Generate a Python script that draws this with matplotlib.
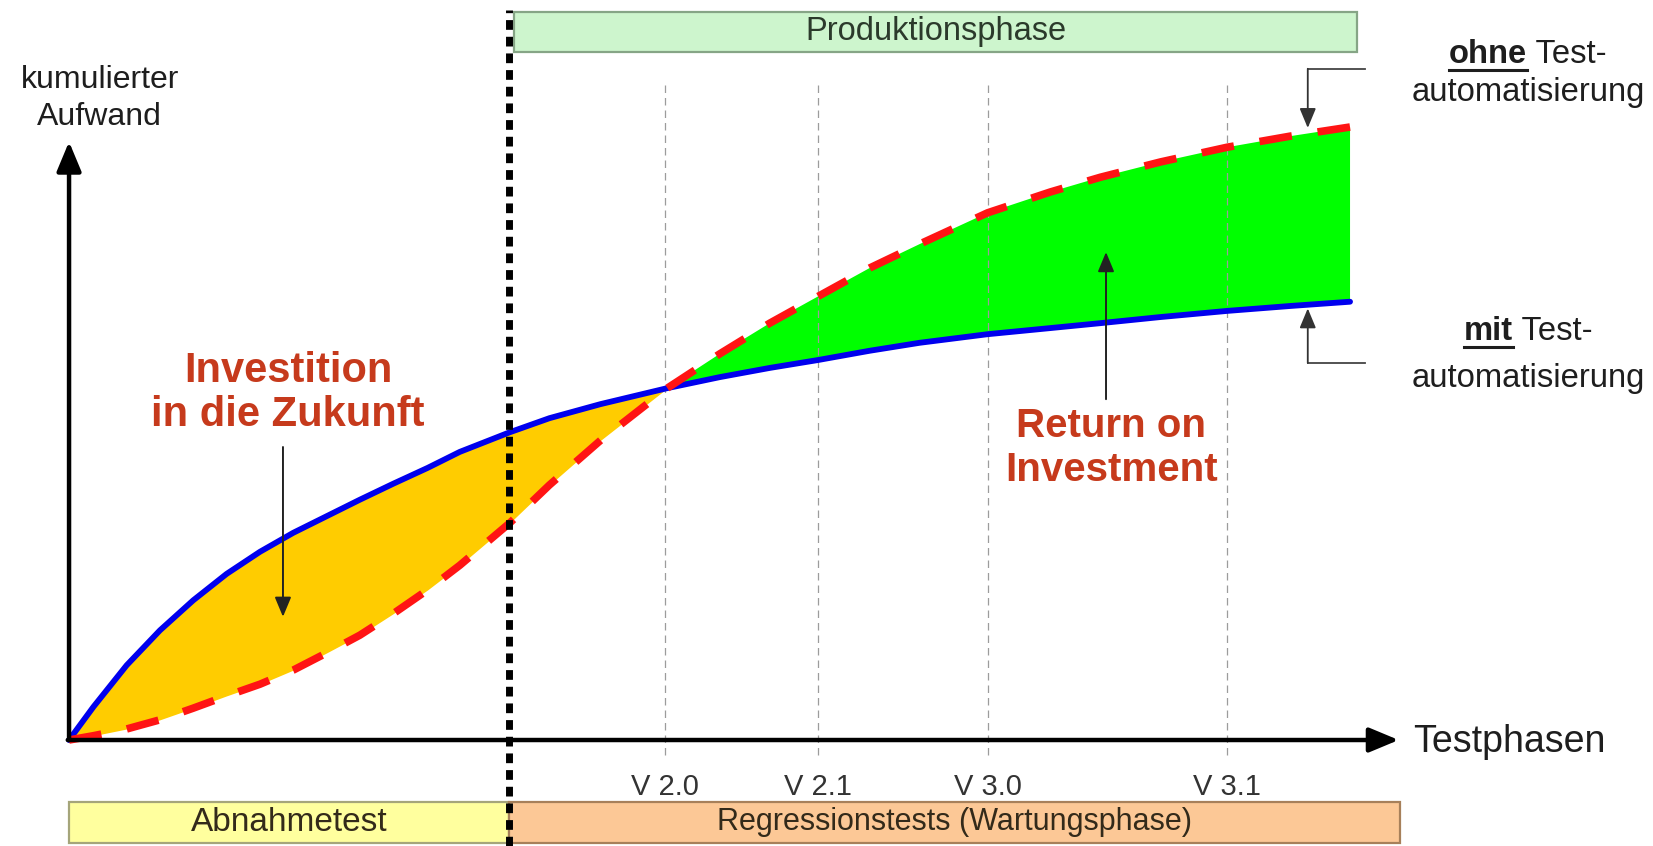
import matplotlib
matplotlib.use("Agg")
import matplotlib.pyplot as plt
import numpy as np
from matplotlib.patches import Rectangle

# ------------------------------------------------------------------
# Data: cumulative effort over the test phases (0..100 scale)
# ------------------------------------------------------------------
phase_x = [0, 1.9, 4.5, 7.1, 9.7, 12.3, 14.9, 17.5, 20.1, 22.7, 25.3, 28.0, 30.5,
           34.4, 37.5, 41.5, 46.7, 50.8, 54.7, 58.5, 62.5, 66.4, 71.7, 76.6,
           80.5, 85.2, 90.4, 95.3, 100]
# with test automation (blue, solid)
mit_auto = [0, 5.4, 12.2, 17.9, 22.8, 27.1, 30.7, 33.8, 36.5, 39.2, 41.8, 44.4, 47.0,
            50.2, 52.5, 54.8, 57.4, 59.2, 60.7, 62.0, 63.5, 64.8, 66.2, 67.2,
            68.0, 69.0, 70.0, 70.8, 71.5]
# without test automation (red, dashed)
ohne_auto = [0, 0.7, 1.8, 3.3, 5.2, 7.2, 9.1, 11.4, 14.2, 17.1, 20.6, 24.5, 28.5,
             35.4, 41.6, 48.9, 57.4, 63.0, 68.0, 72.4, 77.0, 80.9, 86.0, 89.4,
             91.8, 94.3, 96.7, 98.5, 100]

versions = ["V 2.0", "V 2.1", "V 3.0", "V 3.1"]
version_x = [46.5, 58.5, 71.7, 90.4]

phase_boundary = 34.35
bottom_phases = ["Abnahmetest", "Regressionstests (Wartungsphase)"]
bottom_spans = [(0, 34.35), (34.35, 103.9)]
bottom_sizes = [24, 22]
bottom_colors = ["#ffff9e", "#fcc896"]
bottom_edges = ["#a5a57a", "#a7805a"]
top_phase = "Produktionsphase"
top_span = (34.75, 100.55)

plt.rcParams["font.family"] = ["Liberation Sans", "DejaVu Sans"]
TXT = "#1e1e1e"
RED_TXT = "#c63a1c"

fig = plt.figure(figsize=(16.53, 8.46), dpi=100)
ax = fig.add_axes([0, 0, 1, 1])
ax.set_xlim(-5.39, 123.65)
ax.set_ylim(-17.29, 120.72)
ax.axis("off")

x = np.array(phase_x)
m = np.array(mit_auto)
o = np.array(ohne_auto)

# areas between the curves
ax.fill_between(x, m, o, where=m >= o, interpolate=True, color="#ffcc00", lw=0, zorder=1)
ax.fill_between(x, m, o, where=o >= m, interpolate=True, color="#00ff00", lw=0, zorder=1)

# release markers
ax.vlines(version_x, -2.4, 107.3, colors="#9c9c9c", lw=0.9,
          linestyles=(0, (6, 4)), zorder=2)
for vx, lab in zip(version_x, versions):
    ax.text(vx, -7.6, lab, fontsize=21, color="#333333", ha="center", va="center")

# curves
ax.plot(x, m, color="#0000ee", lw=4.2, solid_capstyle="round",
        solid_joinstyle="round", zorder=3)
ax.plot(x, o, color="#ff1414", lw=5.5, dashes=(4.3, 3.4), zorder=4)

# axes with arrow heads
arrow_kw = dict(arrowstyle="-|>,head_length=1.8,head_width=0.75", color="black",
                lw=3.2, shrinkA=0, shrinkB=0)
ax.annotate("", xy=(0, 97.6), xytext=(0, 0), arrowprops=arrow_kw, zorder=5)
ax.annotate("", xy=(103.8, 0), xytext=(-0.1, 0), arrowprops=arrow_kw, zorder=5)
ax.text(2.4, 104.6, "kumulierter\nAufwand", fontsize=23, color=TXT,
        ha="center", va="center", linespacing=1.3)
ax.text(104.9, -0.4, "Testphasen", fontsize=27, color=TXT, ha="left", va="center")

# phase boxes
ax.add_patch(Rectangle((top_span[0], 112.2), top_span[1] - top_span[0], 6.6,
                       facecolor="#cdf5cd", edgecolor="#86a586", lw=1.6, zorder=2))
ax.text(sum(top_span) / 2, 115.5, top_phase, fontsize=23.5, color="#2b3a2b",
        ha="center", va="center")
for (x0, x1), lab, fs, fc, ec in zip(bottom_spans, bottom_phases, bottom_sizes,
                                     bottom_colors, bottom_edges):
    ax.add_patch(Rectangle((x0, -16.8), x1 - x0, 6.7, facecolor=fc, edgecolor=ec,
                           lw=1.6, zorder=2))
    ax.text((x0 + x1) / 2, -13.45, lab, fontsize=fs, color="#332a1a",
            ha="center", va="center")

# boundary between acceptance test and production
ax.vlines(phase_boundary, -17.3, 119.1, colors="black", lw=5,
          linestyles=(0, (1.4, 1.0)), zorder=6)

# annotations inside the areas
ax.text(17.1, 56.6, "Investition\nin die Zukunft", fontsize=30, weight="bold",
        color=RED_TXT, ha="center", va="center", linespacing=1.12)
small_arrow = dict(arrowstyle="-|>,head_length=1.2,head_width=0.5", color="#222222",
                   lw=1.4, shrinkA=0, shrinkB=0)
ax.annotate("", xy=(16.7, 20.1), xytext=(16.7, 47.8), arrowprops=small_arrow, zorder=5)

ax.text(81.35, 47.6, "Return on\nInvestment", fontsize=29, weight="bold",
        color=RED_TXT, ha="center", va="center", linespacing=1.2)
ax.annotate("", xy=(80.95, 79.6), xytext=(80.95, 55.6), arrowprops=small_arrow, zorder=5)

# callouts for the two curves
call_x = 96.7
ohne_tip = np.interp(call_x, x, o) + 0.9
mit_tip = np.interp(call_x, x, m) - 0.6
ax.plot([101.2, call_x], [109.5, 109.5], color="#444444", lw=1.3, zorder=5)
ax.annotate("", xy=(call_x, ohne_tip), xytext=(call_x, 109.5),
            arrowprops=dict(small_arrow, color="#333333", lw=1.3), zorder=5)
ax.plot([101.2, call_x], [61.5, 61.5], color="#444444", lw=1.3, zorder=5)
ax.annotate("", xy=(call_x, mit_tip), xytext=(call_x, 61.5),
            arrowprops=dict(small_arrow, color="#333333", lw=1.3), zorder=5)

renderer = fig.canvas.get_renderer()
px_per_x = ax.transData.transform((1, 0))[0] - ax.transData.transform((0, 0))[0]


def mixed_label(xc, y, bold, rest, size=23.6):
    tb = ax.text(xc, y, bold, fontsize=size, weight="bold", color=TXT,
                 ha="left", va="baseline")
    tr = ax.text(xc, y, rest, fontsize=size, color=TXT, ha="left", va="baseline")
    wb = tb.get_window_extent(renderer).width / px_per_x
    wr = tr.get_window_extent(renderer).width / px_per_x
    left = xc - (wb + wr) / 2
    tb.set_x(left)
    tr.set_x(left + wb)
    ax.plot([left, left + wb], [y - 1.15, y - 1.15], color=TXT, lw=2.2)


mixed_label(113.9, 110.5, "ohne", " Test-")
ax.text(113.9, 104.2, "automatisierung", fontsize=23.6, color=TXT, ha="center",
        va="baseline")
mixed_label(113.9, 65.3, "mit", " Test-")
ax.text(113.9, 57.6, "automatisierung", fontsize=23.6, color=TXT, ha="center",
        va="baseline")

fig.savefig("out.png", dpi=100)
